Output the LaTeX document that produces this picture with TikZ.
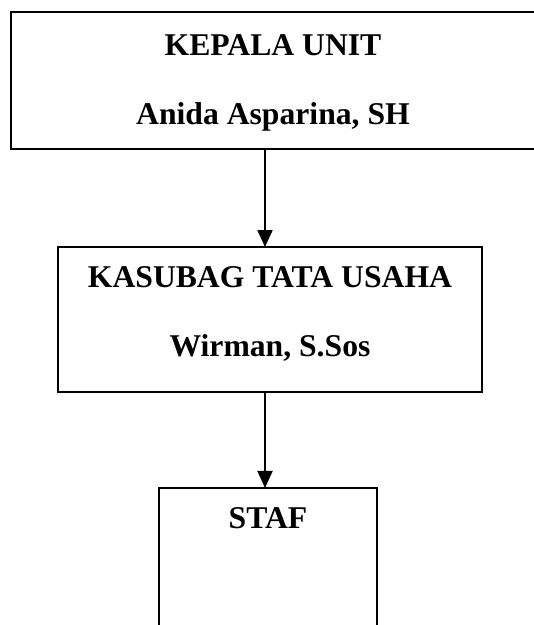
\documentclass[tikz,border=0pt]{standalone}
\usepackage{fontspec}
\setmainfont{Liberation Serif}
\usetikzlibrary{arrows.meta}

\begin{document}
\begin{tikzpicture}[x=0.75pt,y=-0.75pt,line width=1.5pt,
  level 1/.style={level distance=179.25pt},
  level 2/.style={level distance=181.1pt},
  edge from parent/.style={draw,-{Triangle[width=11.25pt,length=12.75pt]}},
  edge from parent path={(\tikzparentnode.south -| spine) -- (\tikzchildnode.north -| spine)},
  every node/.append style={font=\fontsize{23.75}{52}\selectfont\bfseries}]
  \tikzstyle{unit} = [draw,align=center,inner sep=0pt,outer sep=0pt]
  \useasboundingbox (0,0) rectangle (533,625);
  \coordinate (spine) at (265,0);
  \node (kepala) [unit,minimum width=393pt] at (273,80.5)
    {\rule{0pt}{32.6pt}KEPALA UNIT\\Anida Asparina, SH\rule[-18.2pt]{0pt}{18.2pt}}
  {
  child {node (kasubag) [unit,minimum width=318pt,xshift=-2.25pt]
    {\rule{0pt}{30.2pt}KASUBAG TATA USAHA\\Wirman, S.Sos\rule[-26.5pt]{0pt}{26.5pt}}
    {
    child {node (staf) [unit,minimum width=163.5pt,xshift=-1.5pt]
      {\rule{0pt}{30.4pt}STAF\rule[-79.1pt]{0pt}{79.1pt}}}
    }}
  };
\end{tikzpicture}
\end{document}
